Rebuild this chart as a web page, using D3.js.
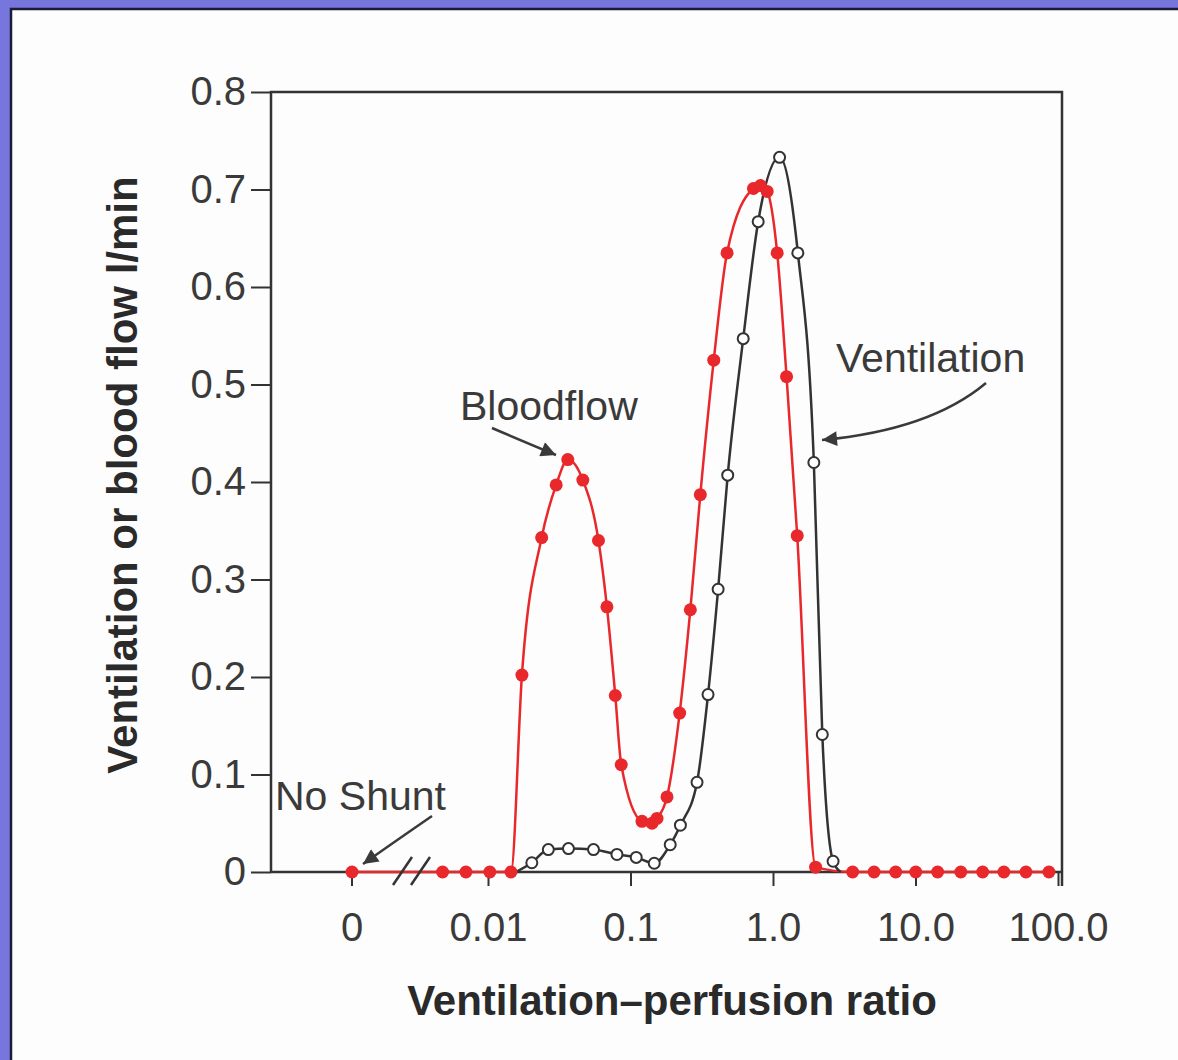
<!DOCTYPE html>
<html>
<head>
<meta charset="utf-8">
<script src="https://cdn.jsdelivr.net/npm/d3@7"></script>
<style>
  html, body { margin: 0; padding: 0; background: #7676dc; }
  svg { display: block; }
  text { font-family: "Liberation Sans", Arial, Helvetica, sans-serif; }
</style>
</head>
<body>
<div id="chart"></div>
<script>
// ---- data ----
var yTickValues = [0, 0.1, 0.2, 0.3, 0.4, 0.5, 0.6, 0.7, 0.8];
var xTickValues = [0.01, 0.1, 1, 10, 100];
var xTickLabels = ['0.01', '0.1', '1.0', '10.0', '100.0'];

// no shunt point, plotted left of the axis break
var noShuntFlow = 0;

// bloodflow (red, filled dots)
var bloodRatio = [0.0048, 0.0070, 0.0103, 0.0145, 0.0173, 0.0238, 0.0301, 0.0363, 0.0463,
  0.0596, 0.0683, 0.0782, 0.0861, 0.1204, 0.1416, 0.1535, 0.1804, 0.2213, 0.263, 0.309,
  0.384, 0.476, 0.729, 0.817, 0.910, 1.070, 1.245, 1.479, 1.99, 3.62, 5.12, 7.26, 10.04,
  14.3, 20.8, 29.6, 41.7, 59.6, 86.4];
var bloodFlow = [0, 0, 0, 0, 0.202, 0.343, 0.397, 0.423, 0.402,
  0.340, 0.272, 0.181, 0.110, 0.052, 0.050, 0.055, 0.077, 0.163, 0.269, 0.387,
  0.525, 0.635, 0.701, 0.704, 0.698, 0.635, 0.508, 0.345, 0.005, 0, 0, 0, 0,
  0, 0, 0, 0, 0, 0];

// ventilation (black, open circles)
var ventRatio = [0.0203, 0.0265, 0.0367, 0.0550, 0.0803, 0.1097, 0.1468, 0.190, 0.224,
  0.293, 0.350, 0.412, 0.481, 0.618, 0.787, 1.112, 1.494, 1.935, 2.218, 2.64];
var ventFlow = [0.0095, 0.023, 0.024, 0.023, 0.018, 0.015, 0.009, 0.028, 0.048,
  0.092, 0.182, 0.290, 0.407, 0.547, 0.667, 0.733, 0.635, 0.420, 0.141, 0.011];
// where the ventilation curve leaves and rejoins the baseline
var ventBaseRatio = [0.0157, 2.98];

var W = 1178, H = 1060;
var ink = '#333';
var red = '#e8282b';

var svg = d3.select('#chart').append('svg')
  .attr('width', W)
  .attr('height', H);

// page: blue frame top/left, scanned white sheet
svg.append('rect').attr('width', W).attr('height', H).attr('fill', '#7676dc');
svg.append('rect').attr('x', 10).attr('y', 8).attr('width', W - 10).attr('height', H - 8)
  .attr('fill', '#fdfdfd');
svg.append('path').attr('d', 'M11,' + H + 'V9H' + W)
  .attr('fill', 'none').attr('stroke', '#1b1b3a').attr('stroke-width', 2.5);

var x = d3.scaleLog().domain([0.01, 100]).range([488, 1058]);
var y = d3.scaleLinear().domain([0, 0.8]).range([872, 92]);
var left = 271, right = 1062;
var zeroPos = x(0.01) - 136;

var px = function(r) { return r === 0 ? zeroPos : x(r); };

// y axis
var yAxis = svg.append('g')
  .attr('transform', 'translate(' + left + ',0)')
  .call(d3.axisLeft(y).tickValues(yTickValues).tickSize(20).tickPadding(5)
    .tickFormat(function(d) { return d === 0 ? '0' : d3.format('.1f')(d); }));
yAxis.select('.domain').remove();
yAxis.selectAll('line').attr('stroke', ink).attr('stroke-width', 2);
yAxis.selectAll('text').attr('font-size', 40).attr('fill', '#3a3a3a')
  .attr('font-family', '"Liberation Sans", Arial, sans-serif');

// x axis (log part)
var xAxis = svg.append('g')
  .attr('transform', 'translate(0,' + y(0) + ')')
  .call(d3.axisBottom(x).tickValues(xTickValues).tickSize(14).tickPadding(27)
    .tickFormat(function(d, i) { return xTickLabels[i]; }));
xAxis.select('.domain').remove();
xAxis.selectAll('line').attr('stroke', ink).attr('stroke-width', 2);
xAxis.selectAll('text').attr('font-size', 40).attr('fill', '#3a3a3a')
  .attr('font-family', '"Liberation Sans", Arial, sans-serif');

// the "0" tick left of the break
svg.append('line')
  .attr('x1', zeroPos).attr('x2', zeroPos)
  .attr('y1', y(0)).attr('y2', y(0) + 14)
  .attr('stroke', ink).attr('stroke-width', 2);
svg.append('text')
  .attr('x', zeroPos).attr('y', y(0) + 41)
  .attr('dy', '0.71em')
  .attr('text-anchor', 'middle').attr('font-size', 40).attr('fill', '#3a3a3a')
  .text('0');

// frame
svg.append('path')
  .attr('d', 'M' + left + ',' + y(0) + 'V' + y(0.8) + 'H' + right + 'V' + (y(0) + 14))
  .attr('fill', 'none').attr('stroke', ink).attr('stroke-width', 2.5);
svg.append('line')
  .attr('x1', left).attr('x2', right).attr('y1', y(0)).attr('y2', y(0))
  .attr('stroke', ink).attr('stroke-width', 2.5);

// lines
var blood = bloodRatio.map(function(r, i) { return [r, bloodFlow[i]]; });
var vent = ventRatio.map(function(r, i) { return [r, ventFlow[i]]; });
var ventLine = [[ventBaseRatio[0], 0]].concat(vent).concat([[ventBaseRatio[1], 0]]);

var line = d3.line()
  .x(function(d) { return px(d[0]); })
  .y(function(d) { return y(d[1]); })
  .curve(d3.curveMonotoneX);

// red run from the no-shunt point across the break
svg.append('path')
  .datum([[0, noShuntFlow], blood[0]])
  .attr('d', d3.line().x(function(d) { return px(d[0]); }).y(function(d) { return y(d[1]); }))
  .attr('stroke', red).attr('stroke-width', 2.5).attr('fill', 'none');

svg.append('path')
  .datum(blood)
  .attr('d', line)
  .attr('stroke', red).attr('stroke-width', 2.5).attr('fill', 'none');

svg.append('path')
  .datum(ventLine)
  .attr('d', line)
  .attr('stroke', ink).attr('stroke-width', 2.5).attr('fill', 'none');

// axis break marks
var bx = zeroPos + 50;
[0, 18].forEach(function(o) {
  svg.append('line')
    .attr('x1', bx + o - 9).attr('y1', y(0) + 13)
    .attr('x2', bx + o + 10).attr('y2', y(0) - 15)
    .attr('stroke', ink).attr('stroke-width', 2.5);
});

// markers
svg.append('g').selectAll('circle')
  .data([[0, noShuntFlow]].concat(blood))
  .join('circle')
  .attr('cx', function(d) { return px(d[0]); })
  .attr('cy', function(d) { return y(d[1]); })
  .attr('r', 6.5)
  .attr('fill', red);

svg.append('g').selectAll('circle')
  .data(vent)
  .join('circle')
  .attr('cx', function(d) { return px(d[0]); })
  .attr('cy', function(d) { return y(d[1]); })
  .attr('r', 5.5)
  .attr('fill', '#fff')
  .attr('stroke', ink)
  .attr('stroke-width', 2);

// annotations
var defs = svg.append('defs');
defs.append('marker')
  .attr('id', 'head')
  .attr('viewBox', '0 0 10 10')
  .attr('refX', 10).attr('refY', 5)
  .attr('markerWidth', 8).attr('markerHeight', 6)
  .attr('markerUnits', 'strokeWidth')
  .attr('orient', 'auto')
  .append('path').attr('d', 'M0,0L10,5L0,10Z').attr('fill', '#3a3a3a');

function note(label, tx, ty, d) {
  svg.append('text')
    .attr('x', tx).attr('y', ty)
    .attr('font-size', 41).attr('fill', '#3a3a3a')
    .text(label);
  svg.append('path')
    .attr('d', d)
    .attr('fill', 'none').attr('stroke', '#3a3a3a').attr('stroke-width', 2.5)
    .attr('marker-end', 'url(#head)');
}

note('Bloodflow', 460, 420, 'M492,428Q520,440 556,455');
note('Ventilation', 836, 372, 'M986,383Q930,430 822,440');
note('No Shunt', 275, 810, 'M432,816Q400,838 363,864');

// axis titles
svg.append('text')
  .attr('transform', 'translate(137,' + 475 + ') rotate(-90)')
  .attr('text-anchor', 'middle')
  .attr('font-size', 42).attr('font-weight', 'bold').attr('fill', '#2a2a2a')
  .text('Ventilation or blood flow l/min');

svg.append('text')
  .attr('x', 672).attr('y', 1015)
  .attr('text-anchor', 'middle')
  .attr('font-size', 42).attr('font-weight', 'bold').attr('fill', '#2a2a2a')
  .text('Ventilation\u2013perfusion ratio');
</script>
</body>
</html>
